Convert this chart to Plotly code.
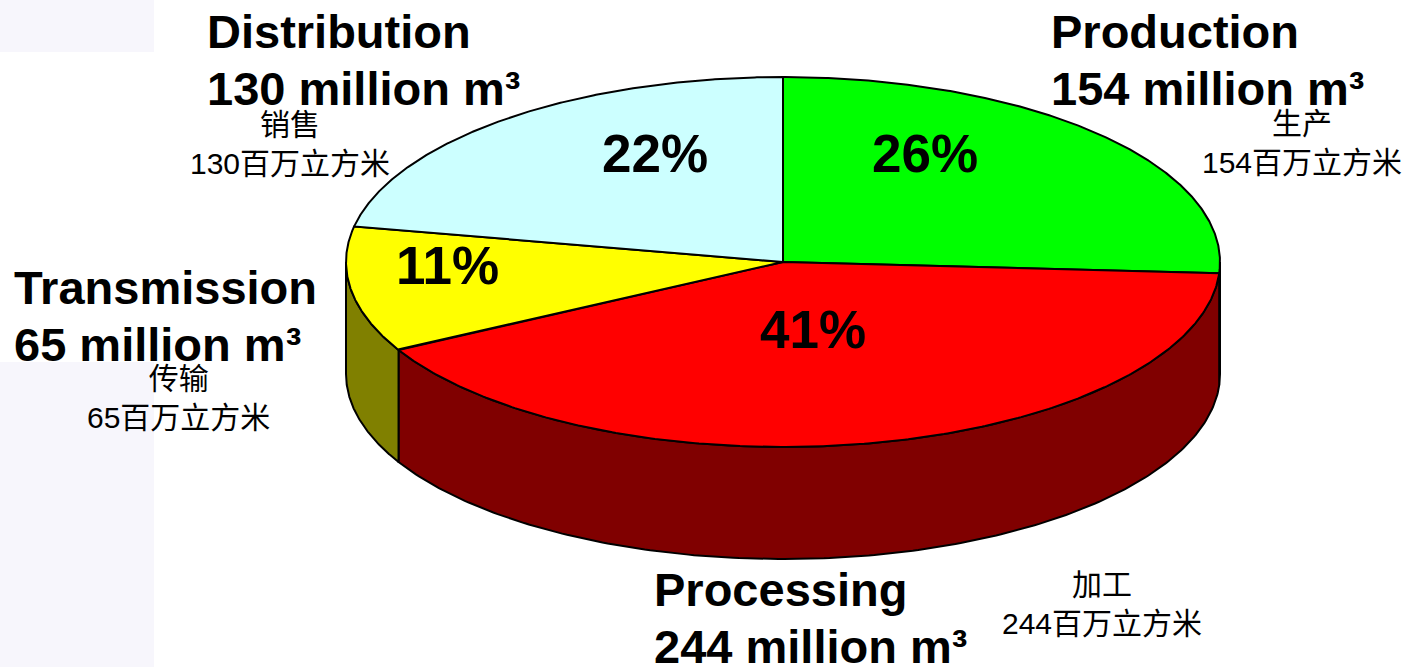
import numpy as np
import plotly.graph_objects as go

# Gas volumes by segment (million m³)
categories = ["Production", "Processing", "Transmission", "Distribution"]
cn_names = ["生产", "加工", "传输", "销售"]
values = [154, 244, 65, 130]

top_colors = ["#00FF00", "#FF0000", "#FFFF00", "#CCFFFF"]
side_colors = ["#008000", "#800000", "#808000", "#669999"]

# Pie geometry in pixel space (y grows downward)
W, H = 1413, 667
CX, CY = 783, 262
RX, RY = 437, 185
DEPTH = 112

# Text placement (pixel space)
pct_pos = [(925, 153), (813, 329), (447, 265), (655, 153)]
name_pos = [(1049, 31), (652, 589), (12, 287), (205, 31)]
amount_dy = 57
cn_pos = [(1302, 143), (1102, 604), (178, 398), (290, 144)]


def rim(theta_deg, dy=0.0):
    t = np.radians(theta_deg)
    return CX + RX * np.sin(t), CY - RY * np.cos(t) + dy


total = float(sum(values))
sweeps = [360.0 * v / total for v in values]
starts = np.concatenate([[0.0], np.cumsum(sweeps)[:-1]])
ends = starts + np.array(sweeps)

fig = go.Figure()

# Side walls (only the front half, 90°..270° clockwise from top, is visible)
for i in range(len(values)):
    a, b = max(starts[i], 90.0), min(ends[i], 270.0)
    if a >= b:
        continue
    th = np.linspace(a, b, 200)
    xt, yt = rim(th)
    xb, yb = rim(th[::-1], DEPTH)
    xs = np.concatenate([xt, xb, xt[:1]])
    ys = np.concatenate([yt, yb, yt[:1]])
    fig.add_trace(go.Scatter(
        x=xs, y=ys, mode="lines", fill="toself",
        fillcolor=side_colors[i], line=dict(color="black", width=2),
        hoverinfo="skip", showlegend=False))

# Top faces
for i in range(len(values)):
    th = np.linspace(starts[i], ends[i], 300)
    xa, ya = rim(th)
    xs = np.concatenate([[CX], xa, [CX]])
    ys = np.concatenate([[CY], ya, [CY]])
    fig.add_trace(go.Scatter(
        x=xs, y=ys, mode="lines", fill="toself",
        fillcolor=top_colors[i], line=dict(color="black", width=2),
        hoverinfo="skip", showlegend=False,
        name=categories[i]))

annotations = []
bold_font = dict(family="Liberation Sans, Arial, sans-serif", size=47, color="black")
pct_font = dict(family="Liberation Sans, Arial, sans-serif", size=53, color="black")
cn_font = dict(family="Liberation Sans, Noto Sans CJK SC, sans-serif", size=30, color="black")

for i, (name, cn, v) in enumerate(zip(categories, cn_names, values)):
    px, py = pct_pos[i]
    annotations.append(dict(
        x=px, y=py, xref="x", yref="y", showarrow=False,
        text=f"<b>{round(100 * v / total)}%</b>", font=pct_font,
        xanchor="center", yanchor="middle"))
    nx, ny = name_pos[i]
    annotations.append(dict(
        x=nx, y=ny, xref="x", yref="y", showarrow=False,
        text=f"<b>{name}</b>", font=bold_font,
        xanchor="left", yanchor="middle"))
    annotations.append(dict(
        x=nx, y=ny + amount_dy, xref="x", yref="y", showarrow=False,
        text=f"<b>{v} million m³</b>", font=bold_font,
        xanchor="left", yanchor="middle"))
    cx_, cy_ = cn_pos[i]
    annotations.append(dict(
        x=cx_, y=cy_, xref="x", yref="y", showarrow=False,
        text=f"{cn}<br>{v}百万立方米", font=cn_font, align="center",
        xanchor="center", yanchor="middle"))

shapes = [
    dict(type="rect", xref="x", yref="y", x0=0, x1=154, y0=0, y1=52,
         fillcolor="#F7F6FC", line=dict(width=0), layer="below"),
    dict(type="rect", xref="x", yref="y", x0=0, x1=154, y0=362, y1=H,
         fillcolor="#F7F6FC", line=dict(width=0), layer="below"),
]

fig.update_layout(
    width=W, height=H,
    margin=dict(l=0, r=0, t=0, b=0, pad=0),
    paper_bgcolor="white", plot_bgcolor="white",
    xaxis=dict(range=[0, W], visible=False, fixedrange=True),
    yaxis=dict(range=[H, 0], visible=False, fixedrange=True),
    showlegend=False,
    annotations=annotations,
    shapes=shapes,
)

fig.write_html("out.html")
